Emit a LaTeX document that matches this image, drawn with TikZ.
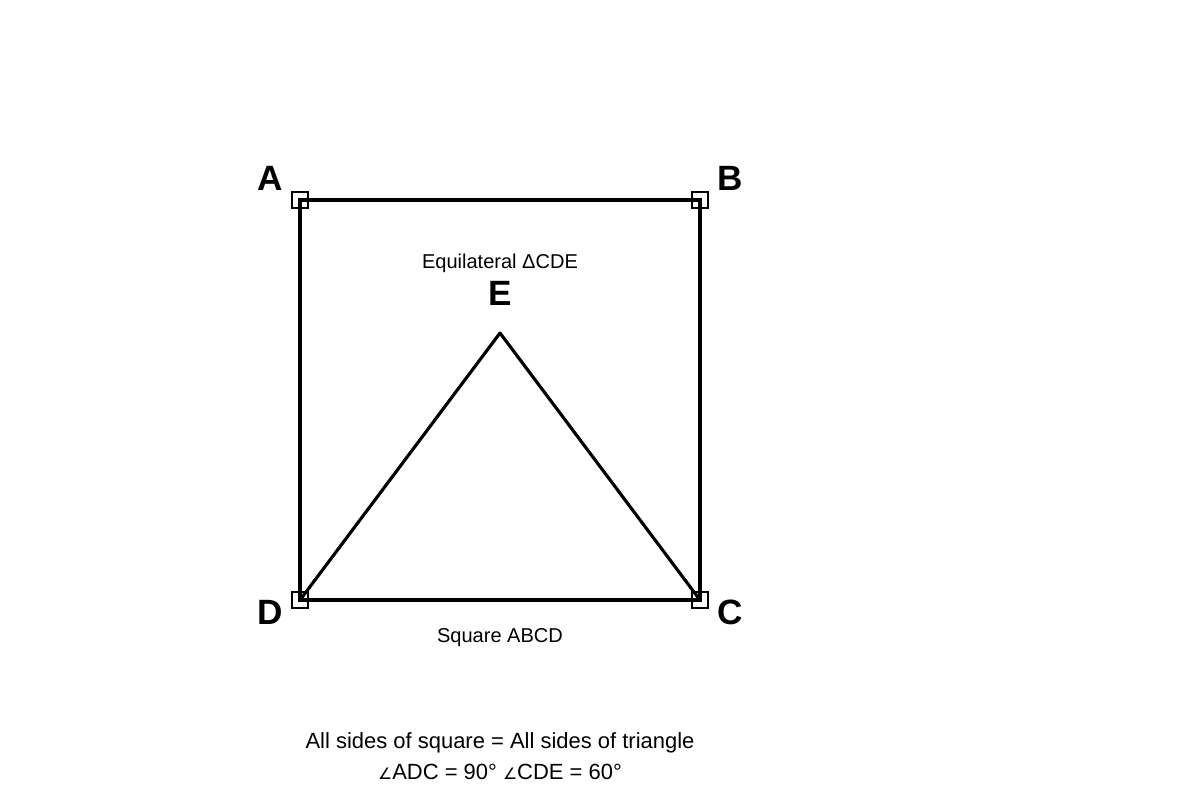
\documentclass[tikz,border=0pt]{standalone}
\usepackage{fontspec}
\setmainfont{Liberation Sans}
\newfontfamily\symfont{DejaVu Sans}
\usetikzlibrary{positioning}
\tikzset{corner/.style = {draw, line width=1.2pt, minimum size=16*0.2mm, inner sep=0pt},
         vlabel/.style = {font=\fontsize{20}{24}\selectfont\bfseries},
         note/.style = {font=\fontsize{11.4}{13}\selectfont}}

\begin{document}
\begin{tikzpicture}[x=0.2mm, y=-0.2mm]
    \useasboundingbox (0, 0) rectangle (1200, 800);
    \coordinate (A) at (300, 200);
    \coordinate (B) at (700, 200);
    \coordinate (C) at (700, 600);
    \coordinate (D) at (300, 600);
    \coordinate (E) at (500, 333);
    \draw [line width=1.8pt] (A) -- (B) -- (C) -- (D) -- cycle;
    \draw [line width=1.8pt, line join=round] (D) -- (E) -- (C);
    \foreach \p in {A, B, C, D}
      \node [corner] (sq\p) at (\p) {};
    \node [vlabel] (lA) at (270, 178) {A};
    \node [vlabel] (lB) at (730, 178) {B};
    \node [vlabel] (lC) at (730, 612) {C};
    \node [vlabel] (lD) at (270, 612) {D};
    \node [vlabel] (lE) at (500, 293) {E};
    \node [note] (tri) at (500, 263) {Equilateral ΔCDE};
    \node [note] (sqr) at (500, 638) {Square ABCD};
    \node [font=\fontsize{12.5}{15}\selectfont] (eq) at (500, 743) {All sides of square = All sides of triangle};
    \node [font=\fontsize{12.5}{15}\selectfont] (ang) at (500, 772) {{\symfont\fontsize{9}{10}\selectfont ∠}ADC = 90° {\symfont\fontsize{9}{10}\selectfont ∠}CDE = 60°};
\end{tikzpicture}
\end{document}
